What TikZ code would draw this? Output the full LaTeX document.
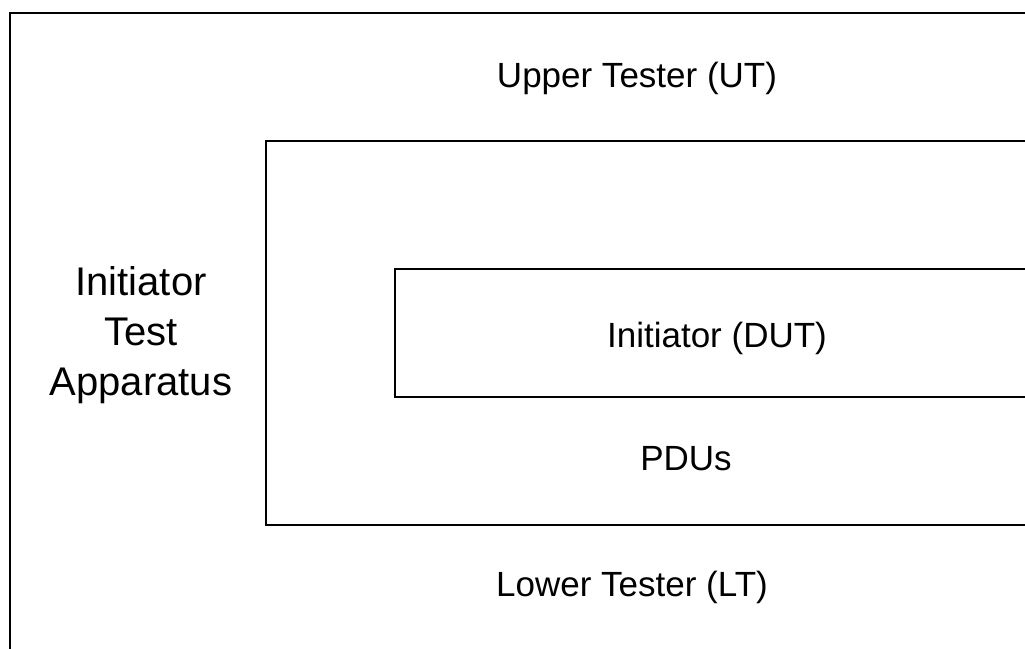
\documentclass[tikz,border=0pt]{standalone}
\usepackage{fontspec}
\setmainfont{Liberation Sans}
\begin{document}
\begin{tikzpicture}[x=1pt,y=-1pt,
  frame/.style={draw=black,line width=2pt},
  lbl/.style={font=\fontsize{35}{42}\selectfont,inner sep=0pt,anchor=base},
  biglbl/.style={font=\fontsize{40}{50}\selectfont,align=center,inner sep=0pt}]
\useasboundingbox (0,0) rectangle (1025,648);
\begin{scope}
\clip (0,0) rectangle (1025,648);
\draw[frame] (9.5,12.5) rectangle (1040,670);
\draw[frame] (266,141) rectangle (1040,525);
\draw[frame] (395,269) rectangle (1040,397);
\end{scope}
\node[lbl] (ut) at (637,87) {Upper Tester (UT)};
\node[lbl] (dut) at (717,347) {Initiator (DUT)};
\node[lbl] (pdu) at (686,470) {PDUs};
\node[lbl] (lt) at (632,596) {Lower Tester (LT)};
\node[biglbl] (ita) at (141,335) {Initiator\\Test\\Apparatus};
\end{tikzpicture}
\end{document}
